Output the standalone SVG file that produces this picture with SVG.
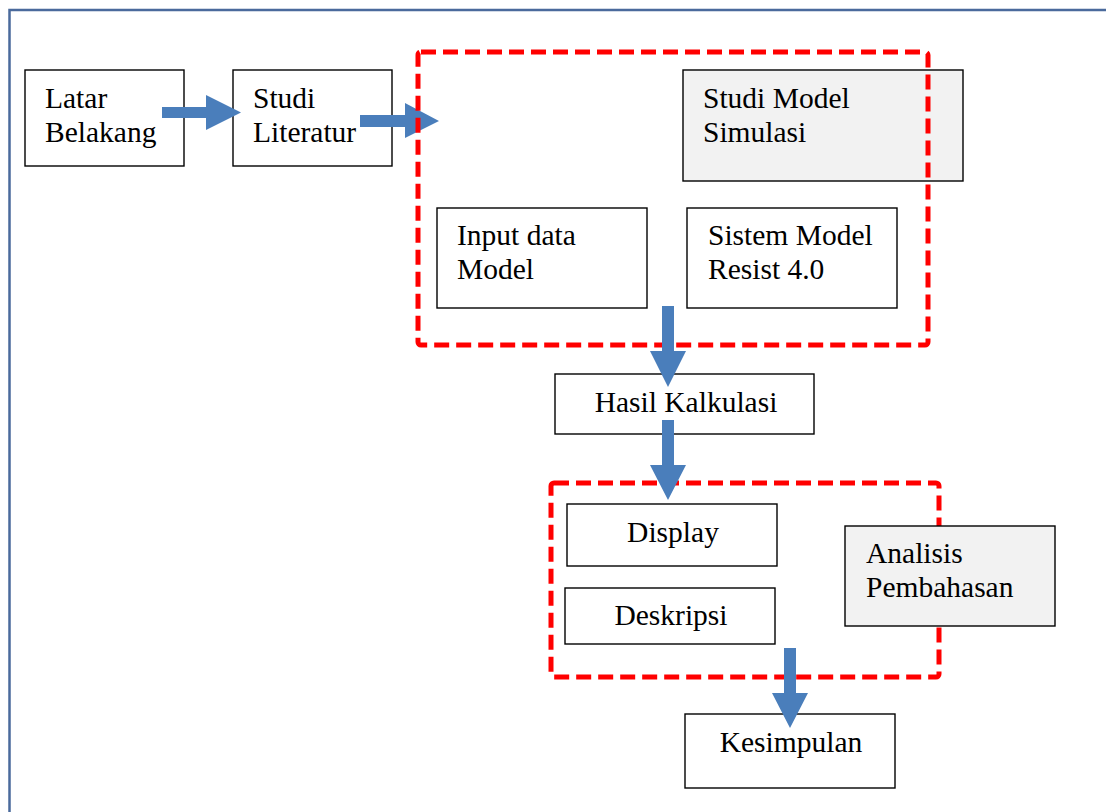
<svg xmlns="http://www.w3.org/2000/svg" width="1106" height="812" viewBox="0 0 1106 812">
<style>
.box{fill:#fff;stroke:#000;stroke-width:1.4}
.grey{fill:#f2f2f2;stroke:#000;stroke-width:1.4}
.t{font-family:"Liberation Serif","Times New Roman",serif;font-size:29.5px;fill:#000}
.c{text-anchor:middle}
.arrow{fill:#4a7ebb}
.dash{fill:none;stroke:#ff0000;stroke-width:5;stroke-dasharray:15 7}
</style>
<rect width="1106" height="812" fill="#fff"/>
<path d="M9.5 812 V10 H1106" fill="none" stroke="#4a6a9c" stroke-width="2.5"/>

<g id="latar-belakang"><rect class="box" x="25" y="70" width="159" height="96"/><text class="t" x="45" y="108">Latar</text><text class="t" x="45" y="142">Belakang</text></g>
<g id="studi-literatur"><rect class="box" x="233" y="70" width="159" height="96"/><text class="t" x="253" y="108">Studi</text><text class="t" x="253" y="142">Literatur</text></g>
<g id="studi-model-simulasi"><rect class="grey" x="683" y="70" width="280" height="111"/><text class="t" x="703" y="108">Studi Model</text><text class="t" x="703" y="142">Simulasi</text></g>
<g id="input-data-model"><rect class="box" x="437" y="208" width="210" height="100"/><text class="t" x="457" y="245">Input data</text><text class="t" x="457" y="279">Model</text></g>
<g id="sistem-model"><rect class="box" x="687" y="208" width="210" height="100"/><text class="t" x="708" y="245">Sistem Model</text><text class="t" x="708" y="279">Resist 4.0</text></g>
<g id="hasil-kalkulasi"><rect class="box" x="555" y="374" width="259" height="60"/><text class="t c" x="686" y="412">Hasil Kalkulasi</text></g>
<g id="display"><rect class="box" x="567" y="504" width="210" height="62"/><text class="t c" x="673" y="542">Display</text></g>
<g id="deskripsi"><rect class="box" x="565" y="588" width="210" height="56"/><text class="t c" x="671" y="625">Deskripsi</text></g>
<g id="kesimpulan"><rect class="box" x="685" y="714" width="210" height="74"/><text class="t c" x="791" y="752">Kesimpulan</text></g>

<g id="connectors">
<polygon class="arrow" points="162,107 206,107 206,95 241,112.5 206,130 206,118 162,118"/>
<polygon class="arrow" points="360,115 405,115 405,103 439,121 405,138 405,127 360,127"/>
</g>

<g id="group-simulasi"><rect class="dash" x="418" y="52" width="510" height="293" rx="3"/></g>
<g id="group-analisis"><rect class="dash" x="551" y="483" width="388" height="194" rx="3"/></g>

<g id="analisis-pembahasan"><rect class="grey" x="845" y="526" width="210" height="100"/><text class="t" x="866" y="563">Analisis</text><text class="t" x="866" y="597">Pembahasan</text></g>

<g id="connectors-down">
<polygon class="arrow" points="662,306 674,306 674,351 686,351 668,387 650,351 662,351"/>
<polygon class="arrow" points="662,420 674,420 674,465 686,465 668,500 650,465 662,465"/>
<polygon class="arrow" points="784,648 796,648 796,693 808,693 790,728 772,693 784,693"/>
</g>
</svg>
